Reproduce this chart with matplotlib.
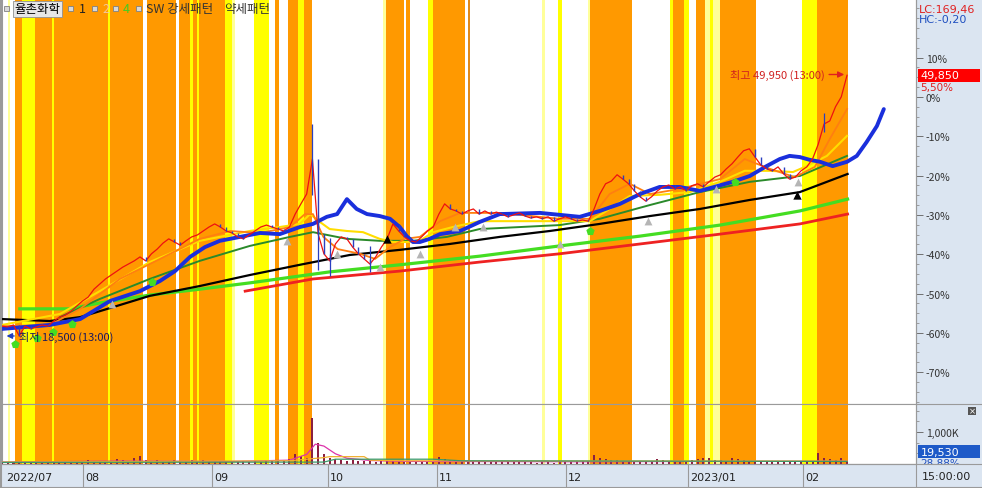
import matplotlib
matplotlib.use("Agg")
import matplotlib.pyplot as plt
from matplotlib.patches import Rectangle
from matplotlib.lines import Line2D
import numpy as np

plt.rcParams['font.family'] = ['Noto Sans CJK KR', 'DejaVu Sans']

# ---- data (x = bar position, y = % vs. reference price) ----
close_pct = [
    -58.3, -58.5, -58.0, -60.8, -58.3, -59.0, -58.5, -58.0, -58.3, -57.0,
    -56.0, -55.5, -54.5, -53.2, -51.9, -50.9, -48.9, -47.6, -46.3, -45.3,
    -44.3, -43.3, -42.5, -41.7, -40.7, -41.7, -39.9, -38.7, -37.2, -36.1,
    -36.9, -37.7, -36.6, -35.6, -35.1, -34.1, -33.1, -32.3, -33.1, -34.1,
    -34.6, -35.6, -36.1, -35.1, -34.1, -33.1, -32.6, -33.1, -33.6, -34.1,
    -33.1, -29.8, -27.2, -24.7, -15.8, -34.9, -39.9, -41.7, -37.4, -35.6,
    -36.1, -38.2, -39.9, -41.2, -42.5, -40.7, -38.2, -36.1, -32.3, -34.1,
    -35.6, -36.6, -36.9, -35.6, -34.1, -33.1, -29.8, -27.2, -28.5, -29.0,
    -29.8, -29.0, -28.5, -29.8, -29.0, -29.8, -29.3, -29.8, -30.5, -30.0,
    -29.5, -30.3, -30.8, -30.5, -31.0, -30.5, -31.6, -31.0, -30.5, -31.0,
    -31.6, -31.3, -31.6, -28.5, -24.7, -22.1, -21.4, -19.8, -20.9, -22.1,
    -23.9, -25.4, -26.5, -25.4, -23.9, -22.9, -22.4, -23.4, -22.9, -23.9,
    -22.6, -22.1, -22.9, -21.6, -20.4, -19.8, -18.3, -17.0, -15.3, -13.7,
    -13.2, -15.3, -17.3, -18.3, -18.8, -17.8, -19.6, -20.9, -20.4, -18.8,
    -17.8, -15.8, -12.0, -6.9, -6.1, -2.5, 0.0, 5.5,
]

# a few long wicks
wick_pos = [54, 55, 57, 64, 143]
wick_hi = [-6.9, -30.0, -36.0, -38.0, -4.0]
wick_lo = [-25.0, -44.0, -45.5, -44.5, -9.0]

volume_k = [
    40, 35, 50, 30, 45, 60, 40, 35, 30, 55, 80, 60, 90, 70,
    60, 120, 80, 100, 70, 90, 150, 110, 80, 200, 260, 120, 90, 140, 100, 80, 120, 90, 70, 110, 80, 130,
    90, 70, 60, 80, 100, 60, 90, 70, 80, 60, 120, 90, 100, 80, 150, 320, 250, 200, 1450, 650, 300,
    180, 150, 120, 90, 110, 100, 80, 90, 70, 100, 80, 120, 90, 70, 60, 80, 70, 60, 90,
    220, 150, 120, 100, 90, 80, 70, 60, 80, 70, 60, 50, 60, 70, 50, 60, 50, 40, 60, 50, 45, 60,
    50, 60, 70, 80, 100, 280, 200, 150, 130, 120, 100, 90, 80, 70, 90, 80, 150, 120, 100, 90, 80, 70,
    110, 150, 200, 180, 140, 120, 100, 200, 150, 120, 100, 90, 80, 70, 60, 70, 80, 60, 50, 70, 60, 90,
    350, 200, 150, 120, 180, 100,
]

vma1_pos = [0, 20, 40, 50, 53, 54.5, 56, 58, 60, 64, 70, 100, 147]
vma1_val = [60, 90, 80, 120, 300, 620, 560, 320, 180, 110, 80, 70, 90]
vma2_pos = [0, 50, 56, 57, 60, 63, 64, 70, 147]
vma2_val = [60, 100, 200, 230, 230, 230, 120, 100, 90]
vma3_pos = [0, 56, 58, 75, 80, 147]
vma3_val = [50, 60, 150, 150, 100, 80]

blue_pos = [0, 8.3, 13.6, 18.8, 24, 27.5, 30.1, 32.7, 35.3, 37.9, 41.4, 44.9, 48.3, 51.8,
            54.1, 56.5, 58.3, 60, 61.7, 63.5, 65.7, 67.5, 69.2, 70.4, 71.5, 72.7, 74.4,
            76.2, 79.7, 83.1, 86.6, 93.6, 100.5, 104, 107.5, 111, 114.4, 117.9, 121.4,
            127.1, 130.1, 133, 135.3, 137, 138.8, 140.5, 142.3, 144.5, 147, 148.7, 150.4,
            152.2, 153.4]
blue_val = [-59.0, -58.0, -56.5, -51.9, -49.4, -46.8, -44.3, -40.7, -38.2, -36.6, -35.6,
            -34.6, -34.9, -33.1, -32.3, -30.5, -29.8, -26.0, -28.5, -29.8, -30.3, -31.0,
            -33.1, -35.4, -36.9, -36.9, -36.1, -34.9, -34.1, -31.8, -29.8, -29.5, -30.5,
            -29.0, -27.2, -24.7, -22.9, -22.9, -23.9, -21.6, -20.1, -17.6, -15.8, -15.0,
            -15.3, -16.0, -16.5, -17.6, -16.5, -15.0, -11.5, -7.4, -3.1]

black_pos = [0, 8.3, 13.6, 17, 25.7, 34.4, 43.1, 51.8, 60.5, 69.2, 77.9, 86.6, 95.3, 104,
             112.7, 121.4, 130.1, 138.8, 147.1]
black_val = [-56.5, -57.0, -56.0, -54.5, -50.6, -48.1, -45.3, -42.7, -40.2, -38.9, -37.4,
             -35.6, -34.1, -32.3, -30.3, -28.5, -26.2, -24.2, -19.6]

dgreen_pos = [10.1, 17, 25.7, 34.4, 43.1, 50.1, 54.1, 60, 65.7, 71.5, 77.4, 83.1, 97, 104,
              112.7, 121.4, 130.1, 138.8, 147]
dgreen_val = [-56.0, -51.4, -46.3, -41.7, -37.9, -35.6, -34.4, -36.1, -36.6, -36.6, -35.6,
              -33.6, -32.6, -31.0, -27.5, -24.2, -21.6, -20.1, -15.0]

yellow_pos = [0, 10.1, 17, 25.7, 34.4, 43.1, 48.3, 51.8, 53.6, 55.3, 57, 60, 62.8, 65.7, 68,
              70.4, 72.7, 75, 78.4, 83.1, 97, 102.3, 105.7, 109.2, 114.4, 119.7, 124.9,
              129.2, 133.6, 137.6, 140, 143.5, 147]
yellow_val = [-58.0, -55.2, -49.4, -42.0, -36.6, -34.1, -33.1, -32.3, -29.8, -31.8, -33.6,
              -34.1, -34.4, -36.1, -36.9, -36.9, -36.6, -34.4, -33.1, -31.6, -31.6, -31.6,
              -28.5, -25.2, -24.9, -24.2, -21.6, -18.8, -18.8, -19.1, -17.6, -15.0, -9.9]

orange_pos = [0, 8.3, 13.6, 20.5, 27.5, 34.4, 39.7, 44.9, 50.1, 52.7, 54.1, 55.9, 58.4, 62.3,
              64.9, 67.5, 70.1, 72.7, 76.2, 79.7, 86.6, 97, 102.3, 105.7, 109.2, 112.7,
              117.9, 124.9, 129.2, 133.6, 137.9, 141.4, 144, 147]
orange_val = [-58.3, -58.0, -53.9, -46.3, -41.2, -36.1, -34.1, -34.6, -33.1, -29.8, -29.8,
              -35.6, -38.7, -39.9, -41.2, -38.2, -36.1, -35.6, -31.6, -29.5, -29.5, -31.0,
              -31.0, -24.7, -22.1, -24.7, -23.4, -20.9, -15.8, -18.3, -20.4, -17.8, -10.7,
              -3.1]

lime_pos = [3.1, 11.8, 17, 25.7, 34.4, 43.1, 57, 69.2, 83.1, 97, 111, 124.9, 138.8, 147.1]
lime_val = [-53.9, -53.9, -52.4, -50.4, -48.9, -47.3, -44.5, -42.7, -40.5, -37.9, -35.4,
            -32.6, -29.0, -26.0]

red_pos = [42.3, 54.1, 69.2, 83.1, 97, 111, 124.9, 138.8, 147.1]
red_val = [-49.4, -46.3, -44.3, -42.0, -39.9, -37.4, -34.9, -32.3, -29.8]

green_mk_pos = [2.3, 6.1, 8.9, 12.2, 26.1, 102.3, 127.5]
green_mk_val = [-62.8, -61.3, -59.8, -57.8, -47.1, -34.1, -21.6]
gray_mk_pos = [19.1, 49.6, 58.3, 65.7, 72.7, 78.8, 83.7, 97, 112.3, 124.2, 138.4]
gray_mk_val = [-52.7, -36.6, -39.9, -43.3, -39.9, -33.1, -33.1, -37.4, -31.6, -23.4, -21.6]
black_mk_pos = [67.0, 138.3]
black_mk_val = [-36.1, -24.9]

band_start = [1.04, 2.26, 3.48, 5.74, 8.70, 9.04, 18.43, 18.78, 25.22, 30.78, 32.70, 33.22,
              33.91, 34.26, 38.78, 40.0, 43.83, 47.48, 49.74, 51.48, 52.52, 66.26, 66.78,
              70.26, 74.09, 74.96, 81.04, 93.91, 96.70, 101.91, 102.26, 116.17, 116.70,
              118.61, 120.70, 122.26, 123.13, 123.65, 124.87, 139.13, 141.74]
band_end = [1.39, 3.48, 5.74, 8.70, 9.04, 18.43, 18.78, 24.52, 30.26, 32.70, 33.22, 33.91,
            34.26, 38.78, 40.0, 40.52, 46.43, 48.17, 51.48, 52.52, 53.91, 66.78, 69.91,
            70.96, 74.96, 80.52, 81.39, 94.43, 97.39, 102.26, 109.57, 116.70, 118.61,
            119.48, 122.26, 123.13, 123.65, 124.87, 131.13, 141.74, 147.13]
band_kind = "POYOYOYOOOYOYOYPYOOYOPOOYODPYPOYOYOPYPOYO"
band_colors = {'O': '#ff9900', 'Y': '#ffff00', 'P': '#ffff99', 'D': '#e08a1a'}

month_pos = [0.3, 14.1, 36.5, 56.7, 75.7, 98.1, 119.3, 139.3]
month_lbl = ['2022/07', '08', '09', '10', '11', '12', '2023/01', '02']

high_pos, high_pct, high_txt = 147, 5.7, '최고 49,950 (13:00)'
low_pos, low_pct, low_txt = 0.3, -60.8, '최저 18,500 (13:00)'

W, H = 982, 489
fig = plt.figure(figsize=(W / 100, H / 100), dpi=100)


def fx(px):
    return px / W


def fy(py):
    return 1 - py / H


panel = '#dbe5f1'
grid_c = '#9a9a9a'
fig.patches.append(Rectangle((fx(916), 0), 1 - fx(916), 1, transform=fig.transFigure,
                             fc=panel, ec='none', zorder=-5))

ax = fig.add_axes([fx(2), fy(405), fx(914), 405 / H])
axv = fig.add_axes([fx(2), fy(465), fx(914), 60 / H])
axd = fig.add_axes([fx(2), 0, fx(914), 24 / H])

xlim = (0, 159)
for a in (ax, axv):
    a.set_xlim(*xlim)
    a.set_facecolor('white')
    for s, k in zip(a.spines.values(), a.spines.keys()):
        s.set_color(grid_c)
        s.set_linewidth(0.8)
    a.spines['top'].set_visible(False)
    a.set_xticks([])
    for s0, s1, k in zip(band_start, band_end, band_kind):
        a.axvspan(s0, s1, color=band_colors[k], lw=0, zorder=0)

# ---- main panel ----
ax.set_ylim(-78.1, 24.9)
xpos = np.arange(len(close_pct))
ax.plot(lime_pos, lime_val, color='#44dd22', lw=2.3, zorder=2)
ax.plot(red_pos, red_val, color='#ee2222', lw=2.0, zorder=2)
ax.plot(black_pos, black_val, color='black', lw=1.6, zorder=3)
ax.plot(dgreen_pos, dgreen_val, color='#2a8a2a', lw=1.4, zorder=3)
ax.plot(yellow_pos, yellow_val, color='#ffdd00', lw=1.5, zorder=3)
ax.plot(orange_pos, orange_val, color='#ff7f10', lw=1.3, zorder=3)
ax.plot(blue_pos, blue_val, color='#1a2fdc', lw=2.8, zorder=4, solid_capstyle='round')

c = np.array(close_pct)
ax.plot(xpos, c, color='#ee1111', lw=0.9, zorder=5)
up = c[1:] >= c[:-1]
ax.vlines(xpos[1:][~up], c[1:][~up], c[:-1][~up], color='#2a3fc0', lw=1.0, zorder=6)
ax.vlines(wick_pos, wick_lo, wick_hi, color='#2a3fc0', lw=0.9, zorder=6)

ax.scatter(green_mk_pos, green_mk_val, marker='p', s=40, color='#44dd22', zorder=7, lw=0)
ax.scatter(gray_mk_pos, gray_mk_val, marker='^', s=32, color='#b5b5b5', zorder=7, lw=0)
ax.scatter(black_mk_pos, black_mk_val, marker='^', s=36, color='black', zorder=7, lw=0)

ax.annotate('', xy=(high_pos, high_pct), xytext=(high_pos - 3.6, high_pct),
            arrowprops=dict(arrowstyle='-|>', color='#e02020', lw=1.0, mutation_scale=9), zorder=8)
ax.text(high_pos - 3.9, high_pct, high_txt, ha='right', va='center', color='#d02020',
        fontsize=8, zorder=8)
ax.annotate('', xy=(low_pos, low_pct), xytext=(low_pos + 2.3, low_pct),
            arrowprops=dict(arrowstyle='-|>', color='#2040c0', lw=1.0, mutation_scale=8), zorder=8)
ax.text(low_pos + 2.6, low_pct, low_txt, ha='left', va='center', color='#1a1a5e',
        fontsize=8, zorder=8)

ax.yaxis.tick_right()
ax.set_yticks(np.arange(-70, 11, 10))
ax.set_yticklabels([f"{v}%" for v in range(-70, 11, 10)])
ax.set_yticks(np.arange(-77.5, 24, 2.5), minor=True)
ax.tick_params(axis='y', which='major', length=5, width=0.7, color='#707070', labelsize=7.5,
               labelcolor='#333333', pad=2)
ax.tick_params(axis='y', which='minor', length=2.5, width=0.6, color='#909090')
ax.tick_params(axis='y', which='minor', right=True, left=False)

tr = ax.get_yaxis_transform()
ax.add_patch(Rectangle((1.0025, 5.5 - 1.65), 0.068, 3.3, transform=tr, fc='#ff0000', ec='none',
                       clip_on=False, zorder=9))
ax.text(1.005, 5.5, '49,850', transform=tr, ha='left', va='center', color='white', fontsize=8,
        clip_on=False, zorder=10, family='DejaVu Sans')
ax.text(1.005, 2.4, '5,50%', transform=tr, ha='left', va='center', color='#e02020', fontsize=7.5,
        clip_on=False, zorder=10, family='DejaVu Sans')
ax.text(1.003, 22.3, 'LC:169,46', transform=tr, ha='left', va='center', color='#e02020',
        fontsize=8, clip_on=False, family='DejaVu Sans')
ax.text(1.003, 19.7, 'HC:-0,20', transform=tr, ha='left', va='center', color='#2050c0',
        fontsize=8, clip_on=False, family='DejaVu Sans')

# ---- volume panel ----
axv.set_ylim(0, 1875)
axv.bar(xpos, volume_k, width=0.35, color='#8a2040', zorder=3)
axv.plot(vma1_pos, vma1_val, color='#dd33aa', lw=0.9, zorder=4)
axv.plot(vma2_pos, vma2_val, color='#f0b030', lw=0.9, zorder=4)
axv.plot(vma3_pos, vma3_val, color='#3a9a6a', lw=0.9, zorder=4)
axv.yaxis.tick_right()
axv.set_yticks([1000])
axv.set_yticklabels(['1,000K'])
axv.set_yticks([333, 667, 1333, 1667], minor=True)
axv.tick_params(axis='y', which='major', length=5, width=0.7, color='#707070', labelsize=7.5,
                labelcolor='#333333', pad=2)
axv.tick_params(axis='y', which='minor', length=2.5, width=0.6, color='#909090')
trv = axv.get_yaxis_transform()
axv.add_patch(Rectangle((1.0025, 390 - 203), 0.068, 406, transform=trv, fc='#1e5ac8',
                        ec='none', clip_on=False, zorder=9))
axv.text(1.005, 390, '19,530', transform=trv, ha='left', va='center', color='white', fontsize=8,
         clip_on=False, zorder=10, family='DejaVu Sans')
axv.text(1.005, 30, '28,88%', transform=trv, ha='left', va='center', color='#2050c0',
         fontsize=7.5, clip_on=False, zorder=10, family='DejaVu Sans')

# ---- date strip ----
axd.set_xlim(*xlim)
axd.set_ylim(0, 1)
axd.set_facecolor(panel)
axd.set_xticks([])
axd.set_yticks([])
for k, s in axd.spines.items():
    s.set_visible(k == 'top')
    s.set_color(grid_c)
for p, l in zip(month_pos, month_lbl):
    if p > 1:
        axd.axvline(p, color=grid_c, lw=0.8)
    axd.text(p + 0.35, 0.45, l, ha='left', va='center', fontsize=8, color='#222222',
             family='DejaVu Sans')

# cover strip on the right of the date row
fig.patches.append(Rectangle((fx(916), 0), 1 - fx(916), 24 / H, transform=fig.transFigure,
                             fc=panel, ec='none', zorder=5))
fig.text(fx(922), fy(477), '15:00:00', ha='left', va='center', fontsize=8, color='#222222',
         family='DejaVu Sans', zorder=6)
for yy in (405, 465, 488):
    fig.lines.append(Line2D([0, 1], [fy(yy), fy(yy)], transform=fig.transFigure, color=grid_c,
                            lw=0.8, zorder=6))
fig.lines.append(Line2D([fx(916), fx(916)], [0, 1], transform=fig.transFigure, color=grid_c,
                        lw=0.8, zorder=6))
fig.lines.append(Line2D([fx(1), fx(1)], [0, 1], transform=fig.transFigure, color=grid_c,
                        lw=1.5, zorder=6))

# close icon
fig.patches.append(Rectangle((fx(968), fy(416)), 8 / W, 8 / H, transform=fig.transFigure,
                             fc='#555555', ec='none', zorder=6))
fig.text(fx(972), fy(412), '×', ha='center', va='center', fontsize=6, color='white', zorder=7,
         family='DejaVu Sans')

# ---- legend row ----
def icon(px):
    fig.patches.append(Rectangle((fx(px), fy(12)), 5 / W, 5 / H, transform=fig.transFigure,
                                 fc='#d8d8d8', ec='#808080', lw=0.6, zorder=7))


for px in (4, 68, 92, 113, 136):
    icon(px)
fig.text(fx(14), fy(9.5), '율촌화학', ha='left', va='center', fontsize=9, color='black', zorder=8,
         bbox=dict(boxstyle='square,pad=0.12', fc='#e6e6e6', ec='#909090', lw=0.6))
fig.text(fx(79), fy(9.5), '1', ha='left', va='center', fontsize=9, color='#222222', zorder=8)
fig.text(fx(102), fy(9.5), '2', ha='left', va='center', fontsize=9, color='#f3c79a', zorder=8)
fig.text(fx(123), fy(9.5), '4', ha='left', va='center', fontsize=9, color='#44cc22', zorder=8)
fig.text(fx(146), fy(9.5), 'SW 강세패턴', ha='left', va='center', fontsize=9, color='#333333',
         zorder=8)
fig.text(fx(224), fy(9.5), '약세패턴', ha='left', va='center', fontsize=9, color='#333333',
         zorder=8)

fig.savefig('out.png', dpi=100)
